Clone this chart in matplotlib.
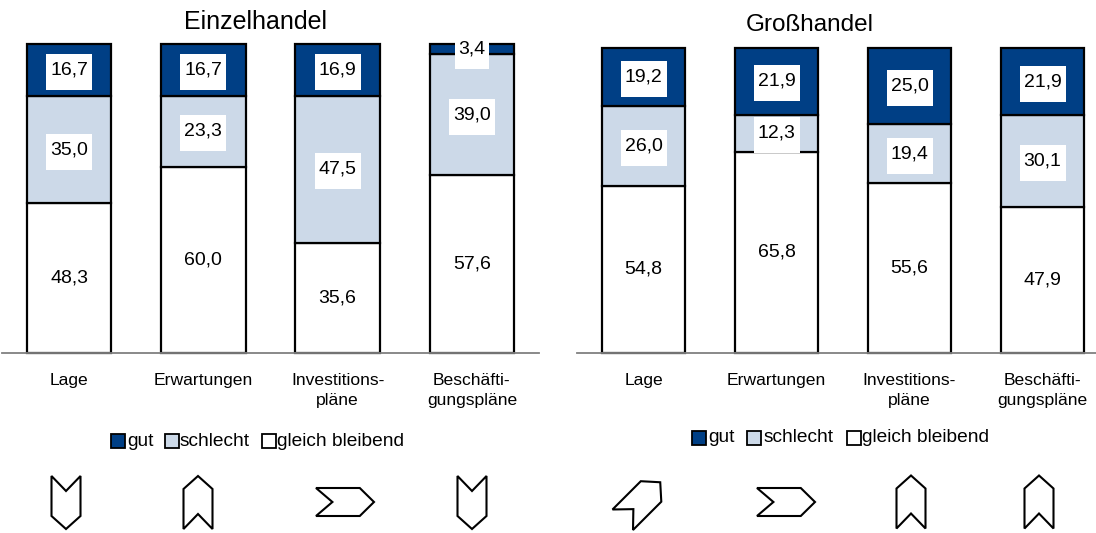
import numpy as np
import matplotlib
matplotlib.use("Agg")
import matplotlib.pyplot as plt
from matplotlib.patches import Polygon, Rectangle

plt.rcParams["font.family"] = ["Liberation Sans", "DejaVu Sans"]

# Daten
kategorien = ["Lage", "Erwartungen", "Investitions-\npläne", "Beschäfti-\ngungspläne"]
serien = ["gut", "schlecht", "gleich bleibend"]

einzel_gut = [16.7, 16.7, 16.9, 3.4]
einzel_schlecht = [35.0, 23.3, 47.5, 39.0]
einzel_gleich = [48.3, 60.0, 35.6, 57.6]

gross_gut = [19.2, 21.9, 25.0, 21.9]
gross_schlecht = [26.0, 12.3, 19.4, 30.1]
gross_gleich = [54.8, 65.8, 55.6, 47.9]

# Pfeilrichtung in Grad, 0 = nach rechts, 90 = nach oben
einzel_pfeile = [-90, 90, 0, -90]
gross_pfeile = [45, 0, 90, 90]

DUNKELBLAU = "#003F85"
HELLBLAU = "#CCD9E8"
W, H = 1096, 533


def ax_pixel(fig, x0, x1, y_unten, y_oben):
    return fig.add_axes([x0 / W, 1 - y_unten / H, (x1 - x0) / W, (y_unten - y_oben) / H])


def balken(ax, gut, schlecht, gleich, xmax, px_x, px_y):
    x = np.arange(4)
    unten = np.zeros(4)
    for werte, farbe in [(gleich, "white"), (schlecht, HELLBLAU), (gut, DUNKELBLAU)]:
        ax.bar(x, werte, width=0.63, bottom=unten, color=farbe, edgecolor="black", linewidth=1.6, clip_on=False)
        unten = unten + np.array(werte)
    # weisse Kaestchen hinter den Zahlen, erst nach allen Balken
    unten = np.zeros(4)
    for werte, farbe in [(gleich, "white"), (schlecht, HELLBLAU), (gut, DUNKELBLAU)]:
        for xi, u, v in zip(x, unten, werte):
            label = f"{v:.1f}".replace(".", ",")
            b = (46 if len(label) == 4 else 34) / px_x
            h = 36 / px_y
            mitte = u + v / 2
            if farbe != "white":
                ax.add_patch(Rectangle((xi - b / 2, mitte - 2 / px_y - h / 2), b, h, facecolor="white",
                                       edgecolor="none", zorder=4, clip_on=False))
            ax.text(xi, mitte, label, ha="center", va="center", fontsize=14, color="black", zorder=5)
        unten = unten + np.array(werte)
    ax.set_xlim(-0.5, xmax)
    ax.set_ylim(0, 100)
    ax.set_yticks([])
    ax.set_xticks(x)
    ax.set_xticklabels(kategorien, fontsize=12.6, linespacing=1.42)
    ax.tick_params(axis="x", length=0, pad=15)
    for s in ["top", "left", "right"]:
        ax.spines[s].set_visible(False)
    ax.spines["bottom"].set_color("#808080")
    ax.spines["bottom"].set_linewidth(1.3)
    ax.patch.set_alpha(0)


def legende(fig, y, kaesten_x, text_x):
    for name, farbe, kx, tx in zip(serien, [DUNKELBLAU, HELLBLAU, "white"], kaesten_x, text_x):
        fig.add_artist(Rectangle((kx / W, 1 - (y + 7) / H), 14 / W, 14 / H, transform=fig.transFigure,
                                 facecolor=farbe, edgecolor="black", linewidth=1.3))
        fig.text(tx / W, 1 - y / H, name, fontsize=13.8, va="center", ha="left")


def pfeil(fig, cx, cy, winkel):
    # Grundform zeigt nach rechts
    basis = np.array([[-26.5, -14.5], [13.5, -14.5], [26.5, 0], [13.5, 14.5], [-26.5, 14.5], [-11.5, 0]], dtype=float)
    if winkel == 0:
        basis = basis * [29 / 26.5, 14 / 14.5]
    r = np.deg2rad(winkel)
    rot = np.array([[np.cos(r), -np.sin(r)], [np.sin(r), np.cos(r)]])
    p = basis @ rot.T
    p = np.column_stack([(cx + p[:, 0]) / W, 1 - (cy - p[:, 1]) / H])
    fig.add_artist(Polygon(p, closed=True, transform=fig.transFigure, facecolor="white", edgecolor="black", linewidth=1.5))


fig = plt.figure(figsize=(W / 100, H / 100), dpi=100, facecolor="white")

ax1 = ax_pixel(fig, 2, 539, 352.5, 44)
balken(ax1, einzel_gut, einzel_schlecht, einzel_gleich, 3.5, 134.25, 3.085)
ax2 = ax_pixel(fig, 577, 1096, 352.5, 48)
balken(ax2, gross_gut, gross_schlecht, gross_gleich, 3.402, 133, 3.045)

fig.text(255.5 / W, 1 - 22 / H, "Einzelhandel", fontsize=18, ha="center", va="center")
fig.text(810 / W, 1 - 25 / H, "Großhandel", fontsize=17.5, ha="center", va="center")

legende(fig, 441, [111, 165, 262], [127, 180, 277])
legende(fig, 438, [692, 747, 847], [708, 764, 862])

for cx, cy, w in zip([66, 198, 345, 472], [502.5, 502.5, 502, 502.5], einzel_pfeile):
    pfeil(fig, cx, cy, w)
for cx, cy, w in zip([641.5, 786, 911, 1039], [501, 502, 502, 502], gross_pfeile):
    pfeil(fig, cx, cy, w)

fig.savefig("out.png", dpi=100, facecolor="white")
